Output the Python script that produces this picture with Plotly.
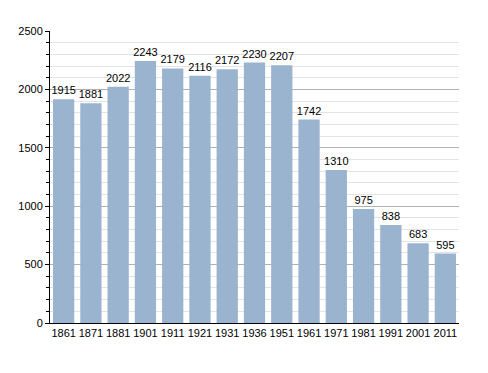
import plotly.graph_objects as go

years = ["1861", "1871", "1881", "1901", "1911", "1921", "1931", "1936", "1951",
         "1961", "1971", "1981", "1991", "2001", "2011"]
population = [1915, 1881, 2022, 2243, 2179, 2116, 2172, 2230, 2207,
              1742, 1310, 975, 838, 683, 595]

fig = go.Figure(go.Bar(
    x=years, y=population,
    marker=dict(color="#9ab3cf", line=dict(width=0)),
    text=[str(v) for v in population], textposition="outside",
    textfont=dict(size=11, color="black", family="Liberation Sans, Arial"),
    cliponaxis=False,
))

fig.update_layout(
    width=480, height=365,
    margin=dict(l=42, r=29, t=23, b=50),
    paper_bgcolor="white", plot_bgcolor="white",
    bargap=0.22,
    showlegend=False,
    uniformtext=dict(minsize=11, mode="show"),
    font=dict(family="Liberation Sans, Arial", size=11, color="black"),
    xaxis=dict(type="category", showline=True, linecolor="black", linewidth=1,
               ticks="", showgrid=False, tickfont=dict(size=11), automargin=False),
    yaxis=dict(range=[0, 2500], dtick=500, showline=True, linecolor="black", linewidth=1,
               ticks="outside", ticklen=4, tickcolor="black", automargin=False,
               showgrid=True, gridcolor="#b0b0b0", gridwidth=1, zeroline=False,
               tickfont=dict(size=11),
               minor=dict(dtick=100, showgrid=True, gridcolor="#e3e3e3",
                          ticks="outside", ticklen=3, tickcolor="black")),
)

fig.write_html("out.html")
